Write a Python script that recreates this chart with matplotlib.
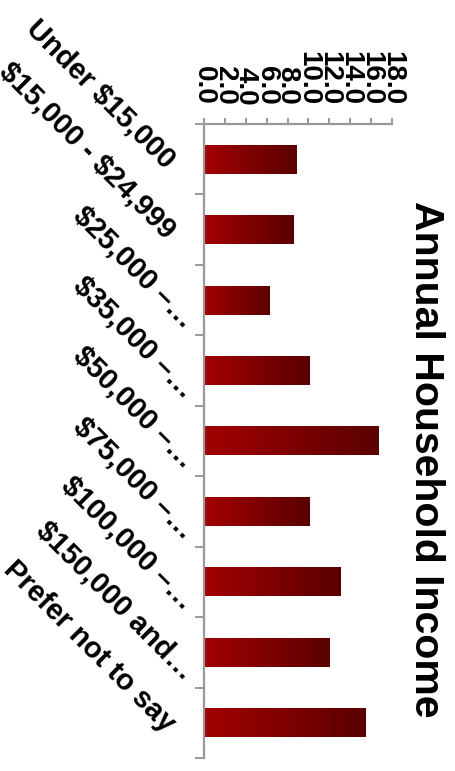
import matplotlib
matplotlib.use("Agg")
import matplotlib.pyplot as plt
import numpy as np
from matplotlib.colors import LinearSegmentedColormap

categories = [
    "Under $15,000",
    "$15,000 - $24,999",
    "$25,000 –…",
    "$35,000 –…",
    "$50,000 –…",
    "$75,000 –…",
    "$100,000 –…",
    "$150,000 and…",
    "Prefer not to say",
]
values = [8.9, 8.6, 6.3, 10.1, 16.7, 10.1, 13.1, 12.0, 15.5]
xticks = np.arange(0, 19, 2)
title = "Annual Household Income"

plt.rcParams["font.family"] = ["Liberation Sans", "DejaVu Sans"]
plt.rcParams["font.weight"] = "bold"

fig = plt.figure(figsize=(4.56, 7.71), dpi=100)
ax = fig.add_axes([204 / 456, 1 - 758 / 771, 188 / 456, 634 / 771])

cmap = LinearSegmentedColormap.from_list("bar_red", ["#a30000", "#5a0000"])
grad = np.linspace(0, 1, 256).reshape(1, -1)
bar_h = 0.41
for i, v in enumerate(values):
    ax.imshow(grad, cmap=cmap, aspect="auto", interpolation="bilinear",
              extent=[0, v, i + bar_h / 2, i - bar_h / 2], zorder=2)

ax.set_xlim(0, 18)
ax.set_ylim(len(categories) - 0.5, -0.5)

grey = "#999999"
for side in ("right", "bottom"):
    ax.spines[side].set_visible(False)
for side in ("left", "top"):
    ax.spines[side].set_color(grey)
    ax.spines[side].set_linewidth(1.6)

ax.xaxis.tick_top()
ax.set_xticks(xticks)
ax.set_xticklabels([f"{v:.1f}" for v in xticks], rotation=-90, fontsize=20, fontweight="bold")
ax.tick_params(axis="x", length=4.5, width=1.4, color=grey, pad=9)

# category ticks sit on the boundaries, labels drawn as rotated text
ax.set_yticks(np.arange(-0.5, len(categories), 1))
ax.set_yticklabels([])
ax.tick_params(axis="y", length=6.5, width=1.4, color=grey)

for i, lab in enumerate(categories):
    dx, dy = -33, -5
    if lab.endswith("…"):
        dx, dy = -14, -23
    ax.annotate(lab.replace("$", r"\$"), xy=(0, i), xytext=(dx * 0.72, dy * 0.72),
                textcoords="offset points", rotation=-45, rotation_mode="anchor",
                ha="right", va="center", fontsize=21, fontweight="bold",
                annotation_clip=False)

fig.text(426 / 456, 1 - 459 / 771, title, rotation=-90, ha="center", va="center",
         fontsize=29.5, fontweight="bold")

fig.savefig("out.png", dpi=100)
